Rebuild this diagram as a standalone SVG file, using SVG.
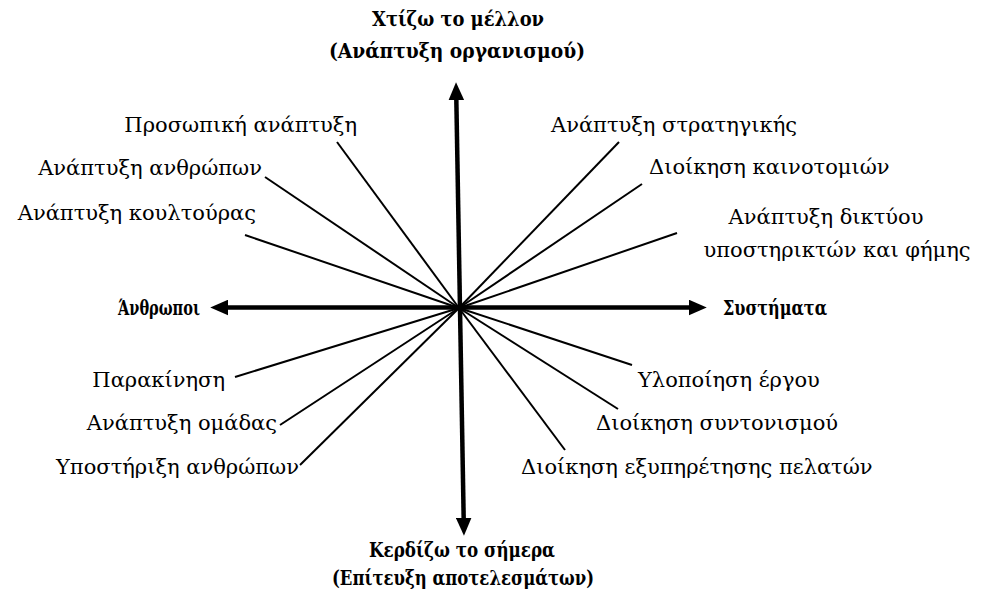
<svg xmlns="http://www.w3.org/2000/svg" width="982" height="591" viewBox="0 0 982 591">
<style>
.lbl{font-family:"DejaVu Serif","Liberation Serif",serif;font-size:21px;fill:#000}
.ttl{font-family:"DejaVu Serif Condensed","DejaVu Serif","Liberation Serif",serif;font-stretch:condensed;font-size:21px;font-weight:bold;fill:#000}
.spoke{stroke:#000;stroke-width:2;fill:none}
.axis{stroke:#000;stroke-width:4.5;fill:none}
</style>
<defs>
<marker id="ah" markerUnits="userSpaceOnUse" markerWidth="18" markerHeight="16" refX="2" refY="7" orient="auto-start-reverse" viewBox="0 0 16 14">
<path d="M0,0 L16,7 L0,14 z" fill="#000"/>
</marker>
</defs>
<rect width="982" height="591" fill="#fff"/>
<g id="connectors">
<line class="spoke" x1="459" y1="308" x2="337" y2="142"/>
<line class="spoke" x1="459" y1="308" x2="265" y2="177"/>
<line class="spoke" x1="459" y1="308" x2="245" y2="235"/>
<line class="spoke" x1="459" y1="308" x2="619" y2="142"/>
<line class="spoke" x1="459" y1="308" x2="642" y2="184"/>
<line class="spoke" x1="459" y1="308" x2="677" y2="233"/>
<line class="spoke" x1="459" y1="308" x2="235" y2="377"/>
<line class="spoke" x1="459" y1="308" x2="280" y2="425"/>
<line class="spoke" x1="459" y1="308" x2="300" y2="465"/>
<line class="spoke" x1="459" y1="308" x2="632" y2="365"/>
<line class="spoke" x1="459" y1="308" x2="618" y2="409"/>
<line class="spoke" x1="459" y1="308" x2="565" y2="450"/>
<line class="axis" x1="456.3" y1="98" x2="463.7" y2="520" marker-start="url(#ah)" marker-end="url(#ah)"/>
<line class="axis" x1="226" y1="307.5" x2="691" y2="307.5" marker-start="url(#ah)" marker-end="url(#ah)"/>
</g>
<g id="top"><text class="ttl" x="458" y="26" text-anchor="middle" textLength="172" lengthAdjust="spacingAndGlyphs">Χτίζω το μέλλον</text><text class="ttl" x="457" y="58" text-anchor="middle" textLength="256" lengthAdjust="spacingAndGlyphs">(Ανάπτυξη οργανισμού)</text></g>
<g id="bottom"><text class="ttl" x="462" y="557" text-anchor="middle" textLength="186" lengthAdjust="spacingAndGlyphs">Κερδίζω το σήμερα</text><text class="ttl" x="463" y="585" text-anchor="middle" textLength="262" lengthAdjust="spacingAndGlyphs">(Επίτευξη αποτελεσμάτων)</text></g>
<g id="left"><text class="ttl" x="118" y="315" textLength="82" lengthAdjust="spacingAndGlyphs">Άνθρωποι</text></g>
<g id="right"><text class="ttl" x="723" y="315" textLength="104" lengthAdjust="spacingAndGlyphs">Συστήματα</text></g>
<g id="n1"><text class="lbl" x="357" y="132" text-anchor="end">Προσωπική ανάπτυξη</text></g>
<g id="n2"><text class="lbl" x="262" y="175" text-anchor="end">Ανάπτυξη ανθρώπων</text></g>
<g id="n3"><text class="lbl" x="256" y="220" text-anchor="end">Ανάπτυξη κουλτούρας</text></g>
<g id="n4"><text class="lbl" x="551" y="132">Ανάπτυξη στρατηγικής</text></g>
<g id="n5"><text class="lbl" x="649" y="174">Διοίκηση καινοτομιών</text></g>
<g id="n6"><text class="lbl" x="826" y="224" text-anchor="middle">Ανάπτυξη δικτύου</text><text class="lbl" x="837" y="257" text-anchor="middle">υποστηρικτών και φήμης</text></g>
<g id="n7"><text class="lbl" x="225" y="387" text-anchor="end">Παρακίνηση</text></g>
<g id="n8"><text class="lbl" x="277" y="430" text-anchor="end">Ανάπτυξη ομάδας</text></g>
<g id="n9"><text class="lbl" x="299" y="474" text-anchor="end">Υποστήριξη ανθρώπων</text></g>
<g id="n10"><text class="lbl" x="638" y="387">Υλοποίηση έργου</text></g>
<g id="n11"><text class="lbl" x="596" y="430">Διοίκηση συντονισμού</text></g>
<g id="n12"><text class="lbl" x="521" y="474">Διοίκηση εξυπηρέτησης πελατών</text></g>
</svg>
